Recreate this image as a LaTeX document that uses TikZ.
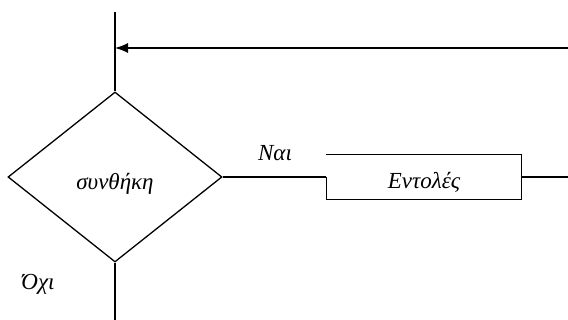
\documentclass[tikz,border=0pt]{standalone}
\usepackage{fontspec}
\setmainfont{Liberation Serif}
\usetikzlibrary{shapes.geometric,arrows.meta}

\begin{document}
\begin{tikzpicture}[x=1pt,y=-1pt,line width=1.3pt,font=\fontsize{23}{27}\selectfont\itshape]
	\useasboundingbox (0,0) rectangle (568,320);
	\node [diamond, draw, inner sep=0pt, minimum width=214pt, minimum height=170pt] (cond) at (115,177) {};
	\node (condtext) at (115,184) {συνθήκη};
	\node [minimum width=194pt, minimum height=44pt, inner sep=0pt] (cmds) at (424,177) {};
	\node (cmdstext) at (424,182) {Εντολές};
	\node (yes) at (275,153) {Ναι};
	\node (no) at (38,284) {Όχι};
	\coordinate (top) at (115,12);
	\coordinate (back) at (115,48);
	\coordinate (in) at (568,48);
	\coordinate (out) at (568,177);
	\coordinate (down) at (115,320);
	%\draw (cmds.north west) rectangle (cmds.south east);
	\draw (cmds.west) -- (cmds.south west) -- (cmds.south east) -- (cmds.north east) -- (cmds.north west);
	\draw (top) -- (cond.north);
	\draw [-{Latex[length=13pt,width=10pt]}] (in) -- (back);
	\draw (cond.east) -- (cmds.west);
	\draw (cmds.east) -- (out);
	\draw (cond.south) -- (down);
\end{tikzpicture}
\end{document}
